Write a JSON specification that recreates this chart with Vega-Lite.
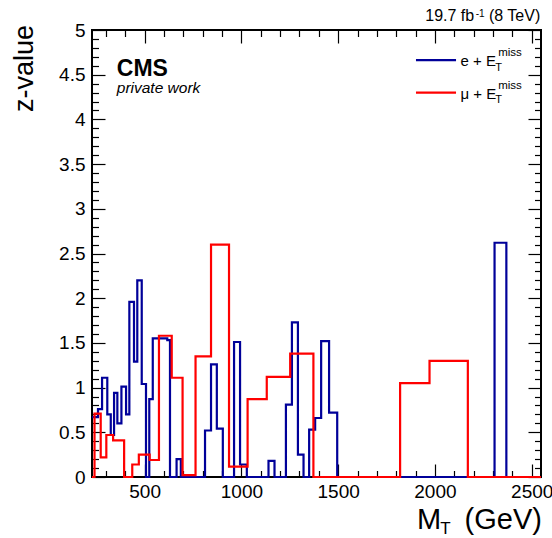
{
  "$schema": "https://vega.github.io/schema/vega-lite/v6.json",
  "width": 449,
  "height": 447,
  "autosize": {"type": "none"},
  "padding": {"left": 92, "top": 30, "right": 11, "bottom": 61},
  "background": "white",
  "config": {
    "view": {"stroke": "black", "strokeWidth": 2},
    "font": "Liberation Sans",
    "axis": {"domain": false, "grid": false, "tickColor": "black", "tickWidth": 1.2, "labelColor": "black", "labelFont": "Liberation Sans"},
    "text": {"font": "Liberation Sans", "color": "black", "baseline": "alphabetic", "align": "left"}
  },
  "data": {"values": [{}]},
  "datasets": {
    "blue": [
      {"m": 228, "z": 0.67}, {"m": 259, "z": 0.76}, {"m": 280, "z": 1.11}, {"m": 307, "z": 0.70},
      {"m": 325, "z": 0.47}, {"m": 342, "z": 0.94}, {"m": 359, "z": 0.60}, {"m": 380, "z": 1.01},
      {"m": 404, "z": 0.70}, {"m": 421, "z": 1.96}, {"m": 445, "z": 1.29}, {"m": 462, "z": 2.20},
      {"m": 485, "z": 1.04}, {"m": 507, "z": 0}, {"m": 524, "z": 0.87}, {"m": 542, "z": 1.55},
      {"m": 617, "z": 1.53}, {"m": 631, "z": 0}, {"m": 665, "z": 0.20}, {"m": 687, "z": 0},
      {"m": 812, "z": 0.52}, {"m": 843, "z": 1.26}, {"m": 873, "z": 0.54}, {"m": 904, "z": 0},
      {"m": 962, "z": 1.51}, {"m": 993, "z": 0.14}, {"m": 1028, "z": 0}, {"m": 1140, "z": 0.18},
      {"m": 1171, "z": 0}, {"m": 1230, "z": 0.81}, {"m": 1261, "z": 1.73}, {"m": 1292, "z": 0.25},
      {"m": 1321, "z": 0}, {"m": 1350, "z": 0.53}, {"m": 1381, "z": 0.66}, {"m": 1412, "z": 1.52},
      {"m": 1453, "z": 0.72}, {"m": 1495, "z": 0}, {"m": 2308, "z": 2.62}, {"m": 2369, "z": 0},
      {"m": 2548, "z": 0}
    ],
    "red": [
      {"m": 228, "z": 0}, {"m": 241, "z": 0.71}, {"m": 273, "z": 0.22}, {"m": 302, "z": 0.47},
      {"m": 337, "z": 0.41}, {"m": 394, "z": 0}, {"m": 436, "z": 0.14}, {"m": 470, "z": 0.25},
      {"m": 526, "z": 0.19}, {"m": 574, "z": 1.58}, {"m": 640, "z": 1.11}, {"m": 696, "z": 0.02},
      {"m": 763, "z": 1.35}, {"m": 843, "z": 2.6}, {"m": 936, "z": 0.115}, {"m": 1032, "z": 0.87},
      {"m": 1131, "z": 1.12}, {"m": 1252, "z": 1.38}, {"m": 1372, "z": 0}, {"m": 1820, "z": 1.05},
      {"m": 1972, "z": 1.30}, {"m": 2170, "z": 0}, {"m": 2548, "z": 0}
    ]
  },
  "resolve": {"axis": {"x": "independent", "y": "independent"}},
  "layer": [
    {
      "data": {"name": "blue"},
      "mark": {"type": "line", "interpolate": "step-after", "color": "#000099", "strokeWidth": 2.2},
      "encoding": {
        "x": {"field": "m", "type": "quantitative",
              "scale": {"domain": [228, 2548], "nice": false, "zero": false},
              "axis": {"orient": "bottom", "title": null, "values": [500, 1000, 1500, 2000, 2500], "format": "d",
                       "offset": -13, "tickSize": 13, "labelFontSize": 19, "labelPadding": 5, "labelFlush": false}},
        "y": {"field": "z", "type": "quantitative",
              "scale": {"domain": [0, 5], "nice": false},
              "axis": {"orient": "left", "title": null, "values": [0, 0.5, 1, 1.5, 2, 2.5, 3, 3.5, 4, 4.5, 5], "format": "~g",
                       "offset": -13, "tickSize": 13, "labelFontSize": 19, "labelPadding": 7, "labelFlush": false}}
      }
    },
    {
      "data": {"name": "red"},
      "mark": {"type": "line", "interpolate": "step-after", "color": "#ff0000", "strokeWidth": 2.2},
      "encoding": {
        "x": {"field": "m", "type": "quantitative",
              "axis": {"orient": "bottom", "title": null, "labels": false, "offset": -6.5, "tickSize": 6.5,
                       "values": [300, 400, 600, 700, 800, 900, 1100, 1200, 1300, 1400, 1600, 1700, 1800, 1900, 2100, 2200, 2300, 2400]}},
        "y": {"field": "z", "type": "quantitative",
              "axis": {"orient": "left", "title": null, "labels": false, "offset": -6.5, "tickSize": 6.5,
                       "values": [0.1, 0.2, 0.3, 0.4, 0.6, 0.7, 0.8, 0.9, 1.1, 1.2, 1.3, 1.4, 1.6, 1.7, 1.8, 1.9, 2.1, 2.2, 2.3, 2.4, 2.6, 2.7, 2.8, 2.9, 3.1, 3.2, 3.3, 3.4, 3.6, 3.7, 3.8, 3.9, 4.1, 4.2, 4.3, 4.4, 4.6, 4.7, 4.8, 4.9]}}
      }
    },
    {
      "data": {"name": "red"},
      "mark": {"type": "line", "strokeOpacity": 0},
      "encoding": {
        "x": {"field": "m", "type": "quantitative",
              "axis": {"orient": "top", "title": null, "labels": false, "offset": -13, "tickSize": 13,
                       "values": [500, 1000, 1500, 2000, 2500]}},
        "y": {"field": "z", "type": "quantitative",
              "axis": {"orient": "right", "title": null, "labels": false, "offset": -13, "tickSize": 13,
                       "values": [0, 0.5, 1, 1.5, 2, 2.5, 3, 3.5, 4, 4.5, 5]}}
      }
    },
    {
      "data": {"name": "red"},
      "mark": {"type": "line", "strokeOpacity": 0},
      "encoding": {
        "x": {"field": "m", "type": "quantitative",
              "axis": {"orient": "top", "title": null, "labels": false, "offset": -6.5, "tickSize": 6.5,
                       "values": [300, 400, 600, 700, 800, 900, 1100, 1200, 1300, 1400, 1600, 1700, 1800, 1900, 2100, 2200, 2300, 2400]}},
        "y": {"field": "z", "type": "quantitative",
              "axis": {"orient": "right", "title": null, "labels": false, "offset": -6.5, "tickSize": 6.5,
                       "values": [0.1, 0.2, 0.3, 0.4, 0.6, 0.7, 0.8, 0.9, 1.1, 1.2, 1.3, 1.4, 1.6, 1.7, 1.8, 1.9, 2.1, 2.2, 2.3, 2.4, 2.6, 2.7, 2.8, 2.9, 3.1, 3.2, 3.3, 3.4, 3.6, 3.7, 3.8, 3.9, 4.1, 4.2, 4.3, 4.4, 4.6, 4.7, 4.8, 4.9]}}
      }
    },
    {
      "mark": {"type": "rule", "color": "#000099", "strokeWidth": 2.2},
      "encoding": {"x": {"datum": 1902, "axis": null}, "x2": {"datum": 2109}, "y": {"datum": 4.664, "axis": null}}
    },
    {
      "mark": {"type": "rule", "color": "#ff0000", "strokeWidth": 2.2},
      "encoding": {"x": {"datum": 1902, "axis": null}, "x2": {"datum": 2109}, "y": {"datum": 4.299, "axis": null}}
    },
    {
      "mark": {"type": "text", "text": "e + E", "fontSize": 15},
      "encoding": {"x": {"datum": 2132, "axis": null}, "y": {"datum": 4.597, "axis": null}}
    },
    {
      "mark": {"type": "text", "text": "T", "fontSize": 11},
      "encoding": {"x": {"datum": 2312, "axis": null}, "y": {"datum": 4.545, "axis": null}}
    },
    {
      "mark": {"type": "text", "text": "miss", "fontSize": 11.5},
      "encoding": {"x": {"datum": 2327, "axis": null}, "y": {"datum": 4.705, "axis": null}}
    },
    {
      "mark": {"type": "text", "text": "μ + E", "fontSize": 15},
      "encoding": {"x": {"datum": 2132, "axis": null}, "y": {"datum": 4.231, "axis": null}}
    },
    {
      "mark": {"type": "text", "text": "T", "fontSize": 11},
      "encoding": {"x": {"datum": 2312, "axis": null}, "y": {"datum": 4.179, "axis": null}}
    },
    {
      "mark": {"type": "text", "text": "miss", "fontSize": 11.5},
      "encoding": {"x": {"datum": 2327, "axis": null}, "y": {"datum": 4.339, "axis": null}}
    },
    {
      "mark": {"type": "text", "text": "CMS", "fontSize": 23, "fontWeight": "bold"},
      "encoding": {"x": {"datum": 356, "axis": null}, "y": {"datum": 4.485, "axis": null}}
    },
    {
      "mark": {"type": "text", "text": "private work", "fontSize": 15.5, "fontStyle": "italic"},
      "encoding": {"x": {"datum": 356, "axis": null}, "y": {"datum": 4.292, "axis": null}}
    },
    {
      "mark": {"type": "text", "text": "19.7 fb", "fontSize": 16},
      "encoding": {"x": {"datum": 1950, "axis": null}, "y": {"datum": 5.104, "axis": null}}
    },
    {
      "mark": {"type": "text", "text": "-1", "fontSize": 10},
      "encoding": {"x": {"datum": 2211, "axis": null}, "y": {"datum": 5.151, "axis": null}}
    },
    {
      "mark": {"type": "text", "text": "(8 TeV)", "fontSize": 16, "align": "right"},
      "encoding": {"x": {"datum": 2544, "axis": null}, "y": {"datum": 5.104, "axis": null}}
    },
    {
      "mark": {"type": "text", "text": "M", "fontSize": 29},
      "encoding": {"x": {"datum": 1907, "axis": null}, "y": {"datum": -0.585, "axis": null}}
    },
    {
      "mark": {"type": "text", "text": "T", "fontSize": 17},
      "encoding": {"x": {"datum": 2028, "axis": null}, "y": {"datum": -0.635, "axis": null}}
    },
    {
      "mark": {"type": "text", "text": "(GeV)", "fontSize": 29, "align": "right"},
      "encoding": {"x": {"datum": 2553, "axis": null}, "y": {"datum": -0.585, "axis": null}}
    },
    {
      "mark": {"type": "text", "text": "z-value", "fontSize": 27, "angle": 270, "align": "right"},
      "encoding": {"x": {"datum": -75, "axis": null}, "y": {"datum": 5.056, "axis": null}}
    }
  ]
}
